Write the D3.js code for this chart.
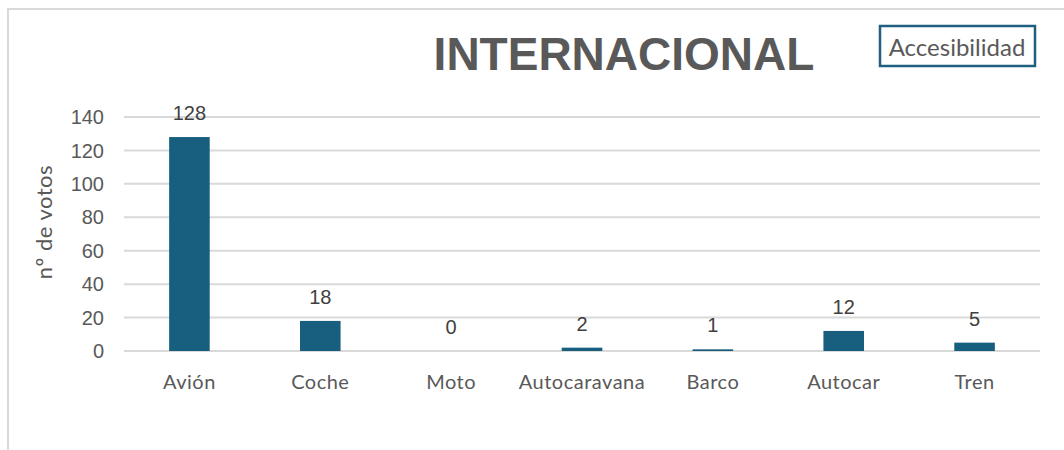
<!DOCTYPE html>
<html lang="es">
<head>
    <meta charset="UTF-8">
    <title>Internacional</title>
    <script src="https://cdnjs.cloudflare.com/ajax/libs/d3/7.8.5/d3.min.js"></script>
    <style>
        body { margin: 0; padding: 0; background: #fff; }
        svg { display: block; }
        .grid line { stroke: #d9d9d9; stroke-width: 2px; }
        .tick-label { font-family: "Liberation Sans", Arial, sans-serif; font-size: 20px; fill: #595959; }
        .cat-label { font-family: Lato, "Open Sans", sans-serif; font-size: 20px; letter-spacing: 0.5px; fill: #595959; }
        .value-label { font-family: "Liberation Sans", Arial, sans-serif; font-size: 20px; fill: #404040; }
    </style>
</head>
<body>
    <div id="chart"></div>
    <script>
        // Datos
        const categories = ['Avión', 'Coche', 'Moto', 'Autocaravana', 'Barco', 'Autocar', 'Tren'];
        const votes = [128, 18, 0, 2, 1, 12, 5];
        const yTicks = [0, 20, 40, 60, 80, 100, 120, 140];

        const width = 1064, height = 450;
        const plot = { left: 124, right: 1040, top: 117, bottom: 351 };

        const svg = d3.select('#chart').append('svg')
            .attr('width', width)
            .attr('height', height);

        // chart frame
        svg.append('path')
            .attr('d', `M8,${height} L8,9 L${width},9`)
            .attr('fill', 'none')
            .attr('stroke', '#d9d9d9')
            .attr('stroke-width', 2);

        const x = d3.scaleBand()
            .domain(categories)
            .range([plot.left, plot.right])
            .paddingInner(0.69)
            .paddingOuter(0.345);

        const y = d3.scaleLinear()
            .domain([0, 140])
            .range([plot.bottom, plot.top]);

        // gridlines
        svg.append('g').attr('class', 'grid')
            .selectAll('line')
            .data(yTicks)
            .join('line')
            .attr('x1', plot.left)
            .attr('x2', plot.right)
            .attr('y1', d => y(d))
            .attr('y2', d => y(d));

        // y tick labels
        svg.append('g')
            .selectAll('text')
            .data(yTicks)
            .join('text')
            .attr('class', 'tick-label')
            .attr('x', 104)
            .attr('y', d => y(d))
            .attr('dy', '0.36em')
            .attr('text-anchor', 'end')
            .text(d => d);

        // bars
        svg.append('g')
            .selectAll('rect')
            .data(votes)
            .join('rect')
            .attr('x', (d, i) => x(categories[i]))
            .attr('width', x.bandwidth())
            .attr('y', d => y(d))
            .attr('height', d => y(0) - y(d))
            .attr('fill', '#175e7f');

        // value labels
        svg.append('g')
            .selectAll('text')
            .data(votes)
            .join('text')
            .attr('class', 'value-label')
            .attr('x', (d, i) => x(categories[i]) + x.bandwidth() / 2)
            .attr('y', d => y(d) - 17)
            .attr('text-anchor', 'middle')
            .text(d => d);

        // category labels
        svg.append('g')
            .selectAll('text')
            .data(categories)
            .join('text')
            .attr('class', 'cat-label')
            .attr('x', d => x(d) + x.bandwidth() / 2)
            .attr('y', 389)
            .attr('text-anchor', 'middle')
            .text(d => d);

        // y axis title
        svg.append('text')
            .attr('transform', 'translate(52,222) rotate(-90)')
            .attr('text-anchor', 'middle')
            .attr('font-family', 'Lato, sans-serif')
            .attr('font-size', 22)
            .attr('letter-spacing', 0.5)
            .attr('fill', '#595959')
            .text('nº de votos');

        // title
        svg.append('text')
            .attr('x', 624)
            .attr('y', 70)
            .attr('text-anchor', 'middle')
            .attr('font-family', '"Liberation Sans", Arial, sans-serif')
            .attr('font-weight', 'bold')
            .attr('font-size', 46)
            .attr('fill', '#595959')
            .text('INTERNACIONAL');

        // Accesibilidad box
        svg.append('rect')
            .attr('x', 880)
            .attr('y', 26)
            .attr('width', 155)
            .attr('height', 40)
            .attr('fill', '#fff')
            .attr('stroke', '#1f5f80')
            .attr('stroke-width', 2.5);

        svg.append('text')
            .attr('x', 957)
            .attr('y', 56)
            .attr('text-anchor', 'middle')
            .attr('font-family', 'Lato, "Open Sans", sans-serif')
            .attr('font-size', 24)
            .attr('fill', '#595959')
            .text('Accesibilidad');
    </script>
</body>
</html>
